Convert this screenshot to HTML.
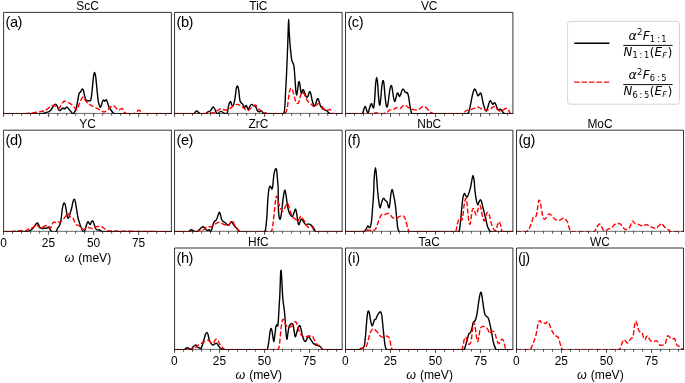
<!DOCTYPE html>
<html lang="en">
<head>
<meta charset="utf-8">
<title>Eliashberg spectral functions</title>
<style>
html,body{margin:0;padding:0;background:#fff;}
body{width:685px;height:383px;overflow:hidden;}
svg{display:block;}
</style>
</head>
<body>
<svg width="685" height="383" viewBox="0 0 685 383">
<rect width="685" height="383" fill="#fff"/>
<defs>
<clipPath id="cp_a"><rect x="3.6" y="12.4" width="167.8" height="101.5"/></clipPath>
<clipPath id="cp_b"><rect x="174.55" y="12.4" width="167.6" height="101.5"/></clipPath>
<clipPath id="cp_c"><rect x="345.5" y="12.4" width="167.4" height="101.5"/></clipPath>
<clipPath id="cp_d"><rect x="3.6" y="130.2" width="167.8" height="101.6"/></clipPath>
<clipPath id="cp_e"><rect x="174.55" y="130.2" width="167.6" height="101.6"/></clipPath>
<clipPath id="cp_f"><rect x="345.5" y="130.2" width="167.4" height="101.6"/></clipPath>
<clipPath id="cp_g"><rect x="516.5" y="130.2" width="167" height="101.6"/></clipPath>
<clipPath id="cp_h"><rect x="174.55" y="248" width="167.6" height="101.9"/></clipPath>
<clipPath id="cp_i"><rect x="345.5" y="248" width="167.4" height="101.9"/></clipPath>
<clipPath id="cp_j"><rect x="516.5" y="248" width="167" height="101.9"/></clipPath>
</defs>
<g>
<g clip-path="url(#cp_a)" fill="none" stroke-linejoin="round">
<path d="M2.6 113.85 C4.64 113.85 7.27 113.85 14 113.85 C20.73 113.85 34.57 114.1 40.32 113.85 C46.06 113.6 44.6 112.82 46.16 112.44 C47.73 112.06 48.17 112.23 49.09 111.71 C50 111.19 50.5 110.56 51.28 109.51 C52.06 108.47 52.74 106.83 53.47 105.86 C54.2 104.89 54.72 104.11 55.37 104.11 C56.03 104.11 56.55 104.89 57.13 105.86 C57.7 106.83 58.07 108.68 58.59 109.51 C59.11 110.35 59.53 110.62 60.05 110.54 C60.57 110.46 60.99 109.52 61.51 109.08 C62.04 108.63 62.45 108.05 62.98 108.05 C63.5 108.05 63.92 109.15 64.44 109.08 C64.96 109 65.38 107.93 65.9 107.61 C66.42 107.3 66.84 107.06 67.36 107.32 C67.88 107.58 68.17 108.29 68.82 109.08 C69.48 109.86 70.31 110.86 71.02 111.71 C71.72 112.56 72.2 113.72 72.77 113.85 C73.35 113.98 73.63 113.34 74.23 112.44 C74.83 111.53 75.53 110.74 76.13 108.78 C76.73 106.83 77.07 104.21 77.6 101.47 C78.12 98.73 78.54 95.13 79.06 93.43 C79.58 91.74 79.95 92.75 80.52 91.97 C81.09 91.19 81.75 89.31 82.27 89.05 C82.8 88.79 82.97 89.07 83.44 90.51 C83.91 91.94 84.38 95.34 84.91 97.09 C85.43 98.84 85.72 99.65 86.37 100.3 C87.02 100.96 87.78 100.79 88.56 100.74 C89.34 100.69 90.13 101.71 90.75 100.01 C91.38 98.31 91.55 95.42 92.04 91.24 C92.53 87.06 93.06 79.96 93.5 76.62 C93.95 73.28 94.13 72.53 94.53 72.53 C94.92 72.53 95.28 73.8 95.7 76.62 C96.11 79.44 96.4 83.88 96.87 88.32 C97.34 92.75 97.81 98.21 98.33 101.47 C98.85 104.74 99.35 105.68 99.79 106.59 C100.23 107.5 100.37 107.37 100.81 106.59 C101.26 105.81 101.8 103.38 102.27 102.2 C102.74 101.03 103 100.19 103.44 100.01 C103.89 99.83 104.26 101.23 104.76 101.18 C105.26 101.13 105.75 99.54 106.22 99.72 C106.69 99.9 106.92 100.98 107.39 102.2 C107.86 103.43 108.2 105.15 108.85 106.59 C109.51 108.03 110.26 109.12 111.05 110.25 C111.83 111.37 112.46 112.23 113.24 112.88 C114.02 113.52 113.24 113.68 115.43 113.85 C126 114.02 162.23 113.85 172.4 113.85" stroke="#000" stroke-width="1.4"/>
<path d="M3.6 113.85 C5.46 113.85 10.58 113.85 14 113.85 C17.42 113.85 19.38 114.02 22.77 113.85 C26.17 113.68 29.35 113.39 33.01 112.88 C36.66 112.36 40.63 111.71 43.24 110.98 C45.85 110.25 46.19 109.7 47.63 108.78 C49.06 107.87 50.11 106.43 51.28 105.86 C52.46 105.29 53.29 105.44 54.2 105.57 C55.12 105.7 55.61 106.07 56.4 106.59 C57.18 107.11 57.81 108.62 58.59 108.49 C59.37 108.36 60 106.98 60.78 105.86 C61.57 104.74 62.25 103.04 62.98 102.2 C63.71 101.37 64.09 101.18 64.88 101.18 C65.66 101.18 66.4 101.76 67.36 102.2 C68.33 102.65 69.24 103.01 70.29 103.67 C71.33 104.32 72.3 104.95 73.21 105.86 C74.12 106.77 74.7 108.13 75.4 108.78 C76.11 109.44 76.51 110.3 77.16 109.51 C77.81 108.73 78.33 106.23 79.06 104.4 C79.79 102.57 80.47 100.59 81.25 99.28 C82.03 97.98 82.66 96.83 83.44 97.09 C84.23 97.35 84.72 99.57 85.64 100.74 C86.55 101.92 87.68 102.88 88.56 103.67 C89.44 104.45 89.44 104.48 90.58 105.13 C91.72 105.78 93.4 106.54 94.96 107.32 C96.53 108.1 97.91 108.73 99.35 109.51 C100.79 110.3 101.96 111.32 103.01 111.71 C104.05 112.1 104.29 112.1 105.2 111.71 C106.11 111.32 107.08 110.43 108.12 109.51 C109.17 108.6 110.13 107.3 111.05 106.59 C111.96 105.89 112.46 105.44 113.24 105.57 C114.02 105.7 114.65 106.62 115.43 107.32 C116.22 108.03 116.84 109.12 117.63 109.51 C118.41 109.91 119.04 109.7 119.82 109.51 C120.6 109.33 121.36 108.36 122.01 108.49 C122.66 108.62 122.95 109.46 123.47 110.25 C124 111.03 124.15 112.23 124.94 112.88 C125.72 113.52 126.29 113.68 127.86 113.85 C129.43 114.02 132.27 114.1 133.71 113.85 C135.14 113.6 135.12 113.03 135.9 112.44 C136.68 111.85 137.49 110.93 138.09 110.54 C138.69 110.15 138.79 110.04 139.26 110.25 C139.73 110.45 140.15 111.06 140.73 111.71 C141.3 112.35 140.73 113.47 142.48 113.85 C148.14 114.23 167.06 113.85 172.4 113.85" stroke="#ff0000" stroke-width="1.4" stroke-dasharray="5 2.1"/>
</g>
<path d="M3.6 113.4 v3.5 M48.63 113.4 v3.5 M93.66 113.4 v3.5 M138.69 113.4 v3.5" stroke="#222" stroke-width="0.85" fill="none"/>
<path d="M12.61 113.4 v2.3 M21.61 113.4 v2.3 M30.62 113.4 v2.3 M39.62 113.4 v2.3 M57.64 113.4 v2.3 M66.64 113.4 v2.3 M75.65 113.4 v2.3 M84.65 113.4 v2.3 M102.67 113.4 v2.3 M111.67 113.4 v2.3 M120.68 113.4 v2.3 M129.68 113.4 v2.3 M147.7 113.4 v2.3 M156.7 113.4 v2.3 M165.71 113.4 v2.3" stroke="#222" stroke-width="0.8" fill="none"/>
<path d="M3.6 113.85 V12.4 H171.4 V113.85" fill="none" stroke="#000" stroke-width="0.8" stroke-linejoin="miter"/>
<path d="M3.2 113.4 H171.8" fill="none" stroke="#000" stroke-opacity="0.65" stroke-width="0.9"/>
<text x="87.5" y="9.7" font-family='"Liberation Sans", sans-serif' font-size="11.9" text-anchor="middle" fill="#000">ScC</text>
<text x="5.6" y="26.9" font-family='"Liberation Sans", sans-serif' font-size="14.6" letter-spacing="-0.5" fill="#000">(a)</text>
</g>
<g>
<g clip-path="url(#cp_b)" fill="none" stroke-linejoin="round">
<path d="M173.55 113.85 C175.42 113.85 180.44 113.85 184 113.85 C187.56 113.85 191.47 114.23 193.5 113.85 C195.4 113.47 194.8 112.22 195.4 111.71 C196 111.19 196.29 110.85 196.87 110.98 C197.44 111.11 197.91 111.93 198.62 112.44 C199.32 112.95 199.51 113.6 200.81 113.85 C202.12 114.1 204.62 114.23 205.93 113.85 C207.24 113.47 207.34 112.22 208.12 111.71 C208.91 111.19 209.66 111.5 210.32 110.98 C210.97 110.45 211.26 109.49 211.78 108.78 C212.3 108.08 212.72 107.03 213.24 107.03 C213.76 107.03 214.18 107.82 214.7 108.78 C215.22 109.75 215.59 111.53 216.16 112.44 C216.74 113.34 217.27 113.98 217.92 113.85 C218.57 113.72 219.22 112.14 219.82 111.71 C220.42 111.27 220.63 111.21 221.28 111.42 C221.93 111.62 222.56 112.44 223.47 112.88 C224.39 113.31 225.67 114.06 226.4 113.85 C227.13 113.64 227.18 113.13 227.57 111.71 C227.96 110.28 228.15 107.63 228.59 105.86 C229.03 104.08 229.61 102.34 230.05 101.77 C230.5 101.19 230.68 101.91 231.08 102.64 C231.47 103.37 231.78 105.55 232.25 105.86 C232.72 106.17 233.19 105.96 233.71 104.4 C234.23 102.83 234.7 99.96 235.17 97.09 C235.64 94.22 235.92 90.27 236.34 88.32 C236.76 86.36 237.09 85.86 237.51 86.12 C237.93 86.38 238.26 87.3 238.68 89.78 C239.1 92.26 239.38 97.66 239.85 100.01 C240.32 102.36 240.79 102.15 241.31 102.94 C241.83 103.72 242.17 103.61 242.77 104.4 C243.37 105.18 244.07 107.11 244.67 107.32 C245.27 107.53 245.69 105.57 246.13 105.57 C246.58 105.57 246.77 106.62 247.16 107.32 C247.55 108.03 247.86 109.65 248.33 109.51 C248.8 109.38 249.22 107.5 249.79 106.59 C250.36 105.68 250.89 104.58 251.54 104.4 C252.2 104.21 252.71 105.18 253.44 105.57 C254.18 105.96 254.98 105.76 255.64 106.59 C256.29 107.43 256.45 109.33 257.1 110.25 C257.75 111.16 258.51 111.58 259.29 111.71 C260.08 111.84 260.7 110.59 261.49 110.98 C262.27 111.36 262.9 113.34 263.68 113.85 C264.46 114.36 263.68 113.85 265.87 113.85 C269.32 113.85 279.73 114.18 283 113.85 C284.2 113.52 283.86 113.4 284.2 112 C284.54 110.6 284.65 109.57 284.9 106 C285.15 102.43 285.33 97.18 285.6 92 C285.87 86.82 286.11 83.07 286.4 77 C286.69 70.93 286.96 63.89 287.2 58 C287.44 52.11 287.57 49 287.75 44 C287.93 39 288.04 34.45 288.2 30 C288.36 25.55 288.49 19.1 288.65 19.1 C288.81 19.1 288.86 25.55 289.1 30 C289.34 34.45 289.68 39.89 290 44 C290.32 48.11 290.59 50.14 290.9 53 C291.21 55.86 291.25 57.87 291.75 60 C292.25 62.13 293.2 63 293.68 64.92 C294.15 66.85 294.15 67.9 294.41 70.77 C294.67 73.64 294.88 77.35 295.14 81.01 C295.4 84.66 295.58 88.76 295.87 91.24 C296.16 93.72 296.44 95.16 296.75 94.89 C297.06 94.63 297.31 91.87 297.63 89.78 C297.94 87.69 298.24 84.63 298.5 83.2 C298.76 81.76 298.85 81.61 299.09 81.74 C299.32 81.87 299.51 82.23 299.82 83.93 C300.13 85.63 300.5 89.54 300.84 91.24 C301.18 92.94 301.41 93.56 301.72 93.43 C302.03 93.3 302.28 91.16 302.6 90.51 C302.91 89.86 303.11 89.39 303.47 89.78 C303.84 90.17 304.17 91.53 304.64 92.7 C305.11 93.88 305.64 95.57 306.11 96.36 C306.58 97.14 306.86 97.35 307.27 97.09 C307.69 96.83 308.08 95.81 308.44 94.89 C308.81 93.98 309.01 92.49 309.32 91.97 C309.63 91.45 309.89 91.45 310.2 91.97 C310.51 92.49 310.71 93.33 311.08 94.89 C311.44 96.46 311.78 98.92 312.25 100.74 C312.72 102.57 313.24 104.21 313.71 105.13 C314.18 106.04 314.46 106.25 314.88 105.86 C315.29 105.47 315.66 104.11 316.05 102.94 C316.44 101.76 316.7 100.01 317.07 99.28 C317.44 98.55 317.73 98.45 318.09 98.84 C318.46 99.23 318.7 100.22 319.12 101.47 C319.53 102.73 319.83 104.61 320.43 105.86 C321.03 107.11 321.72 107.76 322.48 108.49 C323.24 109.22 323.89 109.51 324.67 109.95 C325.46 110.4 326.08 110.45 326.87 110.98 C327.65 111.5 328.28 112.36 329.06 112.88 C329.84 113.39 329.06 113.68 331.25 113.85 C333.77 114.02 341.03 113.85 343.15 113.85" stroke="#000" stroke-width="1.4"/>
<path d="M174.55 113.85 C176.24 113.85 178.92 113.85 184 113.85 C189.08 113.85 198.83 114.1 203.01 113.85 C207.18 113.6 205.56 112.61 207.39 112.44 C209.22 112.26 211.54 113.14 213.24 112.88 C214.94 112.62 215.72 111.66 216.89 110.98 C218.07 110.3 218.77 109.34 219.82 109.08 C220.86 108.81 221.7 109.36 222.74 109.51 C223.79 109.67 224.62 109.95 225.67 109.95 C226.71 109.95 227.55 109.98 228.59 109.51 C229.63 109.04 230.47 108.1 231.51 107.32 C232.56 106.54 233.39 105.65 234.44 105.13 C235.48 104.61 236.32 104.32 237.36 104.4 C238.41 104.48 239.24 104.99 240.29 105.57 C241.33 106.14 242.17 106.78 243.21 107.61 C244.25 108.45 245.22 109.72 246.13 110.25 C247.05 110.77 247.54 110.85 248.33 110.54 C249.11 110.22 249.61 109.33 250.52 108.49 C251.43 107.66 252.53 106.46 253.44 105.86 C254.36 105.26 254.85 104.74 255.64 105.13 C256.42 105.52 256.92 107.09 257.83 108.05 C258.74 109.02 259.58 109.75 260.75 110.54 C261.93 111.32 263.1 111.85 264.41 112.44 C265.71 113.03 266.76 113.6 268.06 113.85 C269.37 114.1 269.05 113.85 271.72 113.85 C274.39 113.85 280.52 114.02 283.01 113.85 C285.49 113.68 284.91 113.78 285.64 112.88 C286.37 111.97 286.66 110.82 287.1 108.78 C287.54 106.75 287.76 104.21 288.12 101.47 C288.49 98.73 288.75 95.65 289.15 93.43 C289.54 91.21 289.9 89.96 290.32 89.05 C290.73 88.13 291.07 88.05 291.49 88.32 C291.9 88.58 292.21 89.2 292.65 90.51 C293.1 91.81 293.47 93.8 293.97 95.63 C294.47 97.45 294.91 99.39 295.43 100.74 C295.95 102.1 296.37 102.84 296.89 103.23 C297.42 103.62 297.83 103.77 298.36 102.94 C298.88 102.1 299.3 100.25 299.82 98.55 C300.34 96.85 300.81 94.61 301.28 93.43 C301.75 92.26 302.01 91.97 302.45 91.97 C302.89 91.97 303.27 92.65 303.77 93.43 C304.26 94.22 304.63 95.18 305.23 96.36 C305.83 97.53 306.4 98.84 307.13 100.01 C307.86 101.19 308.54 102.15 309.32 102.94 C310.1 103.72 310.73 103.74 311.51 104.4 C312.3 105.05 312.92 106.33 313.71 106.59 C314.49 106.85 315.12 106.38 315.9 105.86 C316.68 105.34 317.31 103.93 318.09 103.67 C318.88 103.41 319.5 103.74 320.29 104.4 C321.07 105.05 321.57 106.28 322.48 107.32 C323.39 108.37 324.36 109.78 325.4 110.25 C326.45 110.72 327.49 110.08 328.33 109.95 C329.16 109.82 329.51 109.2 330.08 109.51 C330.66 109.83 330.94 110.93 331.54 111.71 C332.14 112.48 331.54 113.47 333.44 113.85 C335.52 114.23 341.42 113.85 343.15 113.85" stroke="#ff0000" stroke-width="1.4" stroke-dasharray="5 2.1"/>
</g>
<path d="M174.55 113.4 v3.5 M219.58 113.4 v3.5 M264.61 113.4 v3.5 M309.64 113.4 v3.5" stroke="#222" stroke-width="0.85" fill="none"/>
<path d="M183.56 113.4 v2.3 M192.56 113.4 v2.3 M201.57 113.4 v2.3 M210.57 113.4 v2.3 M228.59 113.4 v2.3 M237.59 113.4 v2.3 M246.6 113.4 v2.3 M255.6 113.4 v2.3 M273.62 113.4 v2.3 M282.62 113.4 v2.3 M291.63 113.4 v2.3 M300.63 113.4 v2.3 M318.65 113.4 v2.3 M327.65 113.4 v2.3 M336.66 113.4 v2.3" stroke="#222" stroke-width="0.8" fill="none"/>
<path d="M174.55 113.85 V12.4 H342.15 V113.85" fill="none" stroke="#000" stroke-width="0.8" stroke-linejoin="miter"/>
<path d="M174.15 113.4 H342.55" fill="none" stroke="#000" stroke-opacity="0.65" stroke-width="0.9"/>
<text x="258.35" y="9.7" font-family='"Liberation Sans", sans-serif' font-size="11.9" text-anchor="middle" fill="#000">TiC</text>
<text x="176.55" y="26.9" font-family='"Liberation Sans", sans-serif' font-size="14.6" letter-spacing="-0.5" fill="#000">(b)</text>
</g>
<g>
<g clip-path="url(#cp_c)" fill="none" stroke-linejoin="round">
<path d="M344.5 113.85 C346.2 113.85 350.87 113.85 354 113.85 C357.13 113.85 360.34 114.49 362.04 113.85 C363.5 113.21 362.98 111.54 363.5 110.25 C364.03 108.95 364.52 106.98 364.96 106.59 C365.41 106.2 365.6 107.14 365.99 108.05 C366.38 108.97 366.74 110.92 367.16 111.71 C367.58 112.49 367.94 112.96 368.33 112.44 C368.72 111.92 368.96 110.09 369.35 108.78 C369.74 107.48 370.13 106.04 370.52 105.13 C370.91 104.21 371.15 103.41 371.54 103.67 C371.94 103.93 372.32 105.94 372.71 106.59 C373.11 107.24 373.37 108.76 373.74 107.32 C374.1 105.89 374.42 102.73 374.76 98.55 C375.1 94.37 375.3 87.72 375.64 83.93 C375.98 80.14 376.3 77.35 376.66 77.35 C377.03 77.35 377.34 80.41 377.68 83.93 C378.02 87.45 378.22 93.3 378.56 97.09 C378.9 100.87 379.22 104.61 379.58 105.13 C379.95 105.65 380.22 103.28 380.61 100.01 C381 96.75 381.36 90.3 381.78 86.85 C382.2 83.41 382.56 81.24 382.95 80.71 C383.34 80.19 383.61 81.27 383.97 83.93 C384.34 86.59 384.6 91.84 384.99 95.63 C385.39 99.41 385.75 103.17 386.16 105.13 C386.58 107.09 386.92 107.5 387.33 106.59 C387.75 105.68 388.06 103.01 388.5 100.01 C388.95 97.01 389.35 92.39 389.82 89.78 C390.29 87.17 390.69 85.52 391.13 85.39 C391.58 85.26 391.89 86.96 392.3 89.05 C392.72 91.14 393.06 94.87 393.47 97.09 C393.89 99.31 394.23 101.21 394.64 101.47 C395.06 101.73 395.37 99.99 395.81 98.55 C396.26 97.11 396.71 94.35 397.13 93.43 C397.55 92.52 397.76 92.91 398.15 93.43 C398.54 93.95 398.9 96.1 399.32 96.36 C399.74 96.62 400.02 95.94 400.49 94.89 C400.96 93.85 401.46 91.55 401.95 90.51 C402.45 89.46 402.8 88.92 403.27 89.05 C403.74 89.18 404.11 90.59 404.58 91.24 C405.05 91.89 405.4 92.44 405.9 92.7 C406.4 92.96 406.87 91.92 407.36 92.7 C407.86 93.48 408.23 94.87 408.68 97.09 C409.12 99.31 409.43 102.65 409.85 105.13 C410.27 107.61 410.6 109.42 411.02 110.98 C411.44 112.53 411.02 113.34 412.19 113.85 C416.29 114.36 424.23 113.85 434 113.85 C443.77 113.85 460.68 114.23 466.89 113.85 C468.8 113.47 468.14 113.4 468.8 111.71 C469.45 110.02 469.92 107.27 470.55 104.4 C471.18 101.53 471.73 98.11 472.3 95.63 C472.88 93.15 473.3 91.68 473.77 90.51 C474.24 89.33 474.47 88.79 474.94 89.05 C475.41 89.31 475.88 90.8 476.4 91.97 C476.92 93.15 477.34 95.18 477.86 95.63 C478.38 96.07 478.8 94.93 479.32 94.46 C479.84 93.99 480.31 92.52 480.78 92.99 C481.25 93.46 481.48 95.05 481.95 97.09 C482.42 99.12 482.84 102.18 483.42 104.4 C483.99 106.62 484.6 108.34 485.17 109.51 C485.74 110.69 486.16 111.37 486.63 110.98 C487.1 110.59 487.33 108.89 487.8 107.32 C488.27 105.76 488.79 103.38 489.26 102.2 C489.73 101.03 489.99 100.61 490.43 100.74 C490.88 100.87 491.3 102.28 491.75 102.94 C492.19 103.59 492.47 104.45 492.92 104.4 C493.36 104.35 493.79 102.77 494.23 102.64 C494.68 102.51 494.93 102.83 495.4 103.67 C495.87 104.5 496.34 106.2 496.87 107.32 C497.39 108.44 497.75 109.64 498.33 109.95 C498.9 110.27 499.51 109.02 500.08 109.08 C500.66 109.13 500.94 109.57 501.54 110.25 C502.14 110.92 502.71 112.23 503.44 112.88 C504.18 113.52 503.77 113.68 505.64 113.85 C507.5 114.02 512.42 113.85 513.9 113.85" stroke="#000" stroke-width="1.4"/>
<path d="M345.5 113.85 C347.02 113.85 349.09 113.85 354 113.85 C358.91 113.85 369.09 114.08 373.01 113.85 C375.93 113.62 374.76 112.58 375.93 112.58 C377.1 112.58 378.28 113.62 379.58 113.85 C380.89 114.08 381.93 114.1 383.24 113.85 C384.55 113.6 385.72 113.13 386.89 112.44 C388.07 111.74 388.9 110.48 389.82 109.95 C390.73 109.43 391.23 109.67 392.01 109.51 C392.79 109.36 393.42 109.42 394.2 109.08 C394.99 108.74 395.61 107.67 396.4 107.61 C397.18 107.56 397.86 108.63 398.59 108.78 C399.32 108.94 399.79 108.96 400.49 108.49 C401.2 108.02 401.7 106.67 402.54 106.15 C403.37 105.63 404.23 105.41 405.17 105.57 C406.11 105.72 406.89 106.51 407.8 107.03 C408.71 107.55 409.32 108.05 410.29 108.49 C411.25 108.94 412.17 109.25 413.21 109.51 C414.25 109.78 415.09 110.03 416.13 109.95 C417.18 109.87 418.14 109.55 419.06 109.08 C419.97 108.61 420.39 107.77 421.25 107.32 C422.11 106.88 423.05 106.54 423.88 106.59 C424.72 106.64 425.15 107.01 425.93 107.61 C426.71 108.21 427.41 109.09 428.27 109.95 C429.13 110.81 429.79 111.74 430.75 112.44 C431.72 113.13 433.1 113.6 433.68 113.85 C434 114.1 433.68 113.85 434 113.85 C439.15 113.85 456.9 114.36 462.51 113.85 C465.43 113.34 464.39 111.67 465.43 110.98 C466.48 110.28 467.31 110.21 468.36 109.95 C469.4 109.69 470.11 109.85 471.28 109.51 C472.46 109.18 473.76 108.5 474.94 108.05 C476.11 107.61 476.82 106.95 477.86 107.03 C478.9 107.11 479.61 108.05 480.78 108.49 C481.96 108.94 483.26 109.2 484.44 109.51 C485.61 109.83 486.32 110.32 487.36 110.25 C488.41 110.17 489.37 109.6 490.29 109.08 C491.2 108.55 491.7 107.77 492.48 107.32 C493.26 106.88 493.89 106.33 494.67 106.59 C495.46 106.85 495.95 108 496.87 108.78 C497.78 109.57 498.75 110.72 499.79 110.98 C500.83 111.24 501.67 110.69 502.71 110.25 C503.76 109.8 504.72 108.7 505.64 108.49 C506.55 108.28 507.18 108.5 507.83 109.08 C508.48 109.65 508.77 110.86 509.29 111.71 C509.81 112.56 509.93 113.47 510.75 113.85 C511.58 114.23 513.34 113.85 513.9 113.85" stroke="#ff0000" stroke-width="1.4" stroke-dasharray="5 2.1"/>
</g>
<path d="M345.5 113.4 v3.5 M390.53 113.4 v3.5 M435.56 113.4 v3.5 M480.59 113.4 v3.5" stroke="#222" stroke-width="0.85" fill="none"/>
<path d="M354.51 113.4 v2.3 M363.51 113.4 v2.3 M372.52 113.4 v2.3 M381.52 113.4 v2.3 M399.54 113.4 v2.3 M408.54 113.4 v2.3 M417.55 113.4 v2.3 M426.55 113.4 v2.3 M444.57 113.4 v2.3 M453.57 113.4 v2.3 M462.58 113.4 v2.3 M471.58 113.4 v2.3 M489.6 113.4 v2.3 M498.6 113.4 v2.3 M507.61 113.4 v2.3" stroke="#222" stroke-width="0.8" fill="none"/>
<path d="M345.5 113.85 V12.4 H512.9 V113.85" fill="none" stroke="#000" stroke-width="0.8" stroke-linejoin="miter"/>
<path d="M345.1 113.4 H513.3" fill="none" stroke="#000" stroke-opacity="0.65" stroke-width="0.9"/>
<text x="429.2" y="9.7" font-family='"Liberation Sans", sans-serif' font-size="11.9" text-anchor="middle" fill="#000">VC</text>
<text x="347.5" y="26.9" font-family='"Liberation Sans", sans-serif' font-size="14.6" letter-spacing="-0.5" fill="#000">(c)</text>
</g>
<g>
<g clip-path="url(#cp_d)" fill="none" stroke-linejoin="round">
<path d="M2.6 231.75 C4.64 231.75 9.88 231.75 14 231.75 C18.12 231.75 22.82 231.98 25.7 231.75 C28.57 231.52 28.78 231.06 30.08 230.44 C31.39 229.81 32.09 229.16 33.01 228.25 C33.92 227.33 34.47 226.29 35.2 225.32 C35.93 224.36 36.5 222.97 37.1 222.84 C37.7 222.71 38.04 223.76 38.56 224.59 C39.08 225.43 39.32 226.81 40.02 227.51 C40.73 228.22 41.67 228.46 42.51 228.54 C43.34 228.62 43.92 228.01 44.7 227.95 C45.48 227.9 46.24 228.4 46.89 228.25 C47.55 228.09 47.83 226.95 48.36 227.08 C48.88 227.21 49.17 228.14 49.82 228.98 C50.47 229.81 50.97 231.25 52.01 231.75 C53.06 232.25 54.67 232.38 55.67 231.75 C56.66 231.12 56.86 229.39 57.57 228.25 C58.27 227.1 58.99 226.89 59.61 225.32 C60.24 223.76 60.61 222.35 61.08 219.47 C61.55 216.6 61.83 211.98 62.25 209.24 C62.66 206.5 63.02 205.22 63.42 204.12 C63.81 203.03 64.07 202.84 64.44 203.1 C64.8 203.36 65.07 203.84 65.46 205.58 C65.85 207.33 66.21 210.68 66.63 212.89 C67.05 215.11 67.38 217.23 67.8 218.01 C68.22 218.79 68.53 218.19 68.97 217.28 C69.41 216.37 69.79 214.59 70.29 212.89 C70.78 211.2 71.28 209.74 71.75 207.78 C72.22 205.82 72.47 203.44 72.92 201.93 C73.36 200.42 73.79 199.3 74.23 199.3 C74.68 199.3 74.99 200.15 75.4 201.93 C75.82 203.71 76.1 206.37 76.57 209.24 C77.04 212.11 77.46 215.4 78.04 218.01 C78.61 220.62 79.16 222.03 79.79 223.86 C80.42 225.69 80.89 226.84 81.54 228.25 C82.2 229.65 82.84 231.36 83.44 231.75 C84.04 232.14 84.38 231.59 84.91 230.44 C85.43 229.29 85.85 226.89 86.37 225.32 C86.89 223.76 87.36 222.06 87.83 221.67 C88.3 221.28 88.56 222.61 89 223.13 C89.44 223.65 89.87 224.85 90.32 224.59 C90.76 224.33 91.07 222.32 91.49 221.67 C91.9 221.01 92.24 220.67 92.65 220.94 C93.07 221.2 93.38 221.95 93.82 223.13 C94.27 224.3 94.57 226.29 95.14 227.51 C95.71 228.74 96.34 229.61 97.04 230 C97.75 230.39 98.38 229.55 99.09 229.71 C99.79 229.86 100.26 230.51 100.99 230.88 C101.72 231.24 100.99 231.59 103.18 231.75 C105.5 231.91 103.18 231.75 114 231.75 C126.36 231.75 161.97 231.75 172.4 231.75" stroke="#000" stroke-width="1.4"/>
<path d="M3.6 231.75 C4.74 231.75 7.27 231.92 10 231.75 C12.73 231.58 16.02 230.99 18.87 230.79 C21.73 230.59 24.23 230.96 25.97 230.61 C27.71 230.26 27.68 229.31 28.63 228.84 C29.58 228.36 30.42 228.27 31.3 227.95 C32.17 227.63 32.8 227.54 33.51 227.06 C34.23 226.59 34.73 225.76 35.29 225.29 C35.84 224.81 36.06 224.16 36.62 224.4 C37.17 224.64 37.68 225.91 38.39 226.62 C39.11 227.33 39.82 228.31 40.61 228.39 C41.4 228.47 42.04 227.51 42.83 227.06 C43.62 226.62 44.26 226.18 45.05 225.91 C45.84 225.64 46.55 225.43 47.27 225.55 C47.98 225.68 48.49 226.11 49.04 226.62 C49.6 227.13 49.94 228.55 50.37 228.39 C50.81 228.24 51.02 226.76 51.49 225.75 C51.95 224.75 52.44 223.45 52.98 222.78 C53.51 222.1 53.84 221.98 54.46 221.98 C55.08 221.98 55.74 222.78 56.45 222.78 C57.15 222.78 57.81 222.07 58.43 221.98 C59.05 221.9 59.39 222.41 59.92 222.28 C60.45 222.16 60.87 221.73 61.41 221.29 C61.94 220.85 62.27 220.51 62.89 219.8 C63.51 219.09 64.26 218.12 64.88 217.32 C65.5 216.53 65.87 216.05 66.36 215.34 C66.86 214.63 67.21 213.53 67.65 213.36 C68.1 213.18 68.45 213.82 68.84 214.35 C69.23 214.88 69.39 215.8 69.84 216.33 C70.28 216.86 70.79 217.02 71.32 217.32 C71.85 217.62 72.37 217.57 72.81 218.02 C73.25 218.46 73.41 218.95 73.8 219.8 C74.19 220.65 74.55 221.89 74.99 222.78 C75.44 223.66 75.79 224.32 76.28 224.76 C76.78 225.2 77.24 225.08 77.77 225.26 C78.3 225.43 78.73 225.31 79.26 225.75 C79.79 226.2 80.21 227.12 80.74 227.74 C81.28 228.36 81.61 228.96 82.23 229.22 C82.85 229.49 83.51 229.45 84.22 229.22 C84.92 228.99 85.49 228.24 86.2 227.93 C86.91 227.63 87.47 227.54 88.18 227.54 C88.89 227.54 89.46 227.76 90.17 227.93 C90.88 228.11 91.44 228.6 92.15 228.53 C92.86 228.46 93.43 227.86 94.13 227.54 C94.84 227.22 95.41 226.92 96.12 226.74 C96.83 226.57 97.39 226.64 98.1 226.55 C98.81 226.46 99.38 226.18 100.08 226.25 C100.79 226.32 101.36 226.59 102.07 226.94 C102.78 227.3 103.34 227.7 104.05 228.23 C104.76 228.76 105.42 229.44 106.03 229.92 C106.65 230.4 106.03 230.58 107.52 230.91 C119.37 231.24 160.81 231.6 172.4 231.75" stroke="#ff0000" stroke-width="1.4" stroke-dasharray="5 2.1"/>
</g>
<path d="M3.6 231.3 v3.5 M48.63 231.3 v3.5 M93.66 231.3 v3.5 M138.69 231.3 v3.5" stroke="#222" stroke-width="0.85" fill="none"/>
<path d="M12.61 231.3 v2.3 M21.61 231.3 v2.3 M30.62 231.3 v2.3 M39.62 231.3 v2.3 M57.64 231.3 v2.3 M66.64 231.3 v2.3 M75.65 231.3 v2.3 M84.65 231.3 v2.3 M102.67 231.3 v2.3 M111.67 231.3 v2.3 M120.68 231.3 v2.3 M129.68 231.3 v2.3 M147.7 231.3 v2.3 M156.7 231.3 v2.3 M165.71 231.3 v2.3" stroke="#222" stroke-width="0.8" fill="none"/>
<path d="M3.6 231.75 V130.2 H171.4 V231.75" fill="none" stroke="#000" stroke-width="0.8" stroke-linejoin="miter"/>
<path d="M3.2 231.3 H171.8" fill="none" stroke="#000" stroke-opacity="0.65" stroke-width="0.9"/>
<text x="87.5" y="127.5" font-family='"Liberation Sans", sans-serif' font-size="11.9" text-anchor="middle" fill="#000">YC</text>
<text x="5.6" y="144.7" font-family='"Liberation Sans", sans-serif' font-size="14.6" letter-spacing="-0.5" fill="#000">(d)</text>
<text x="3.45" y="246.9" font-family='"Liberation Sans", sans-serif' font-size="11.9" text-anchor="middle" fill="#000">0</text>
<text x="48.48" y="246.9" font-family='"Liberation Sans", sans-serif' font-size="11.9" text-anchor="middle" fill="#000">25</text>
<text x="93.51" y="246.9" font-family='"Liberation Sans", sans-serif' font-size="11.9" text-anchor="middle" fill="#000">50</text>
<text x="138.54" y="246.9" font-family='"Liberation Sans", sans-serif' font-size="11.9" text-anchor="middle" fill="#000">75</text>
<text x="87.9" y="261.9" font-family='"Liberation Sans", sans-serif' font-size="12.1" text-anchor="middle" fill="#000"><tspan font-style="italic" font-size="12.5">ω</tspan><tspan dx="0.6"> (meV)</tspan></text>
</g>
<g>
<g clip-path="url(#cp_e)" fill="none" stroke-linejoin="round">
<path d="M173.55 231.75 C175.42 231.75 181.35 231.75 184 231.75 C186.65 231.75 187.08 232.11 188.39 231.75 C189.69 231.39 190.4 229.86 191.31 229.71 C192.22 229.55 192.46 230.51 193.5 230.88 C194.55 231.24 196.11 231.96 197.16 231.75 C198.2 231.54 198.57 230.46 199.35 229.71 C200.13 228.95 200.84 228.04 201.54 227.51 C202.25 226.99 202.65 226.6 203.3 226.78 C203.95 226.97 204.52 227.89 205.2 228.54 C205.88 229.19 206.39 230.23 207.1 230.44 C207.8 230.65 208.52 229.47 209.15 229.71 C209.77 229.94 210.09 232.01 210.61 231.75 C211.13 231.49 211.55 229.79 212.07 228.25 C212.59 226.71 213.01 224.43 213.53 223.13 C214.05 221.82 214.47 221.54 214.99 220.94 C215.52 220.34 215.93 220.68 216.46 219.77 C216.98 218.85 217.4 217.18 217.92 215.82 C218.44 214.46 218.91 212.29 219.38 212.16 C219.85 212.03 220.13 213.73 220.55 215.09 C220.97 216.45 221.2 218.59 221.72 219.77 C222.24 220.94 222.85 221.14 223.47 221.67 C224.1 222.19 224.58 222.17 225.23 222.69 C225.88 223.21 226.53 224.12 227.13 224.59 C227.73 225.06 228.07 225.5 228.59 225.32 C229.11 225.14 229.53 224.22 230.05 223.57 C230.57 222.91 230.99 221.61 231.51 221.67 C232.04 221.72 232.45 223.08 232.98 223.86 C233.5 224.64 233.84 225.32 234.44 226.05 C235.04 226.78 235.63 227.17 236.34 227.95 C237.04 228.74 237.55 229.76 238.39 230.44 C239.22 231.12 238.39 231.52 241.02 231.75 C245.63 231.98 259.83 232.38 264.23 231.75 C265.7 231.12 265.23 230.96 265.7 228.25 C266.17 225.53 266.47 221.77 266.87 216.55 C267.26 211.33 267.53 203.88 267.89 199.01 C268.25 194.14 268.53 191.49 268.87 189.28 C269.2 187.07 269.44 187.13 269.75 186.62 C270.07 186.11 270.37 186.2 270.64 186.44 C270.91 186.68 271.02 187.47 271.26 187.95 C271.5 188.43 271.72 189.34 271.97 189.1 C272.23 188.87 272.44 188.17 272.68 186.62 C272.92 185.07 273.06 182.63 273.3 180.41 C273.54 178.19 273.74 175.94 274.01 174.2 C274.28 172.45 274.51 171.63 274.81 170.65 C275.11 169.67 275.41 168.93 275.7 168.7 C275.98 168.46 276.17 168.49 276.41 169.32 C276.65 170.14 276.82 171.33 277.03 173.31 C277.24 175.29 277.36 177.71 277.56 180.41 C277.77 183.1 278.06 184.29 278.18 188.39 C278.26 192.5 278.18 198.63 278.26 203.39 C278.38 208.16 278.57 212.27 278.85 215.09 C279.14 217.91 279.49 219.05 279.88 219.18 C280.27 219.31 280.66 217.86 281.05 215.82 C281.44 213.78 281.68 211.04 282.07 207.78 C282.46 204.51 282.85 200.42 283.24 197.54 C283.63 194.67 283.92 192.95 284.26 191.7 C284.6 190.44 284.8 189.74 285.14 190.53 C285.48 191.31 285.77 193.52 286.16 196.08 C286.56 198.64 286.86 202.11 287.33 204.85 C287.8 207.6 288.22 209.61 288.8 211.43 C289.37 213.26 289.92 214.17 290.55 215.09 C291.18 216 291.78 216.68 292.3 216.55 C292.83 216.42 293.06 215.4 293.47 214.36 C293.89 213.31 294.25 211.62 294.64 210.7 C295.03 209.79 295.3 208.72 295.67 209.24 C296.03 209.76 296.35 211.67 296.69 213.63 C297.03 215.58 297.23 218.25 297.57 220.2 C297.91 222.16 298.23 224.07 298.59 224.59 C298.96 225.11 299.17 224.04 299.61 223.13 C300.06 222.21 300.55 220 301.08 219.47 C301.6 218.95 301.94 219.55 302.54 220.2 C303.14 220.86 303.76 222.27 304.44 223.13 C305.12 223.99 305.69 224.9 306.34 225.03 C306.99 225.16 307.39 223.94 308.09 223.86 C308.8 223.78 309.5 224.12 310.29 224.59 C311.07 225.06 311.77 225.71 312.48 226.49 C313.18 227.27 313.58 228.04 314.23 228.98 C314.89 229.92 314.23 231.25 316.13 231.75 C321.3 232.25 338.33 231.75 343.15 231.75" stroke="#000" stroke-width="1.4"/>
<path d="M174.55 231.75 C176.24 231.75 180.22 231.75 184 231.75 C187.78 231.75 193.09 231.98 195.7 231.75 C198.31 231.52 197.45 230.67 198.62 230.44 C199.79 230.2 201.23 230.7 202.27 230.44 C203.32 230.18 203.68 229.58 204.47 228.98 C205.25 228.38 205.75 227.47 206.66 227.08 C207.57 226.68 208.54 226.97 209.58 226.78 C210.63 226.6 211.46 226.57 212.51 226.05 C213.55 225.53 214.39 224.51 215.43 223.86 C216.48 223.21 217.44 222.61 218.36 222.4 C219.27 222.19 219.77 222.43 220.55 222.69 C221.33 222.95 221.83 223.44 222.74 223.86 C223.66 224.28 224.75 224.72 225.67 225.03 C226.58 225.34 227.15 225.82 227.86 225.61 C228.56 225.41 228.96 224.7 229.61 223.86 C230.27 223.02 230.91 221.33 231.51 220.94 C232.12 220.54 232.45 221.01 232.98 221.67 C233.5 222.32 233.84 223.55 234.44 224.59 C235.04 225.63 235.56 226.47 236.34 227.51 C237.12 228.56 237.86 229.68 238.82 230.44 C239.79 231.19 238.82 231.52 241.75 231.75 C247.33 231.98 264.71 231.98 270.08 231.75 C271.84 231.52 271.31 231.85 271.84 230.44 C272.36 229.03 272.59 226.86 273.01 223.86 C273.42 220.86 273.76 217.54 274.18 213.63 C274.59 209.71 274.95 205.01 275.35 201.93 C275.74 198.85 276 197.03 276.37 196.37 C276.73 195.72 276.95 196.89 277.39 198.27 C277.84 199.66 278.28 202.3 278.85 204.12 C279.43 205.95 279.96 207.2 280.61 208.51 C281.26 209.81 281.91 211.3 282.51 211.43 C283.11 211.56 283.37 210.28 283.97 209.24 C284.57 208.2 285.22 206.63 285.87 205.58 C286.52 204.54 287.05 203.13 287.63 203.39 C288.2 203.65 288.51 205.35 289.09 207.05 C289.66 208.74 290.19 211.07 290.84 212.89 C291.49 214.72 292.01 216.24 292.74 217.28 C293.47 218.32 294.15 218.09 294.94 218.74 C295.72 219.4 296.48 220.67 297.13 220.94 C297.78 221.2 298.07 220.86 298.59 220.2 C299.11 219.55 299.53 217.93 300.05 217.28 C300.57 216.63 300.99 216.21 301.51 216.55 C302.04 216.89 302.32 218.14 302.98 219.18 C303.63 220.23 304.39 221.09 305.17 222.4 C305.95 223.7 306.58 225.58 307.36 226.49 C308.15 227.4 308.77 227.46 309.56 227.51 C310.34 227.57 311.1 226.52 311.75 226.78 C312.4 227.04 312.56 228.09 313.21 228.98 C313.86 229.86 313.21 231.25 315.4 231.75 C320.75 232.25 338.2 231.75 343.15 231.75" stroke="#ff0000" stroke-width="1.4" stroke-dasharray="5 2.1"/>
</g>
<path d="M174.55 231.3 v3.5 M219.58 231.3 v3.5 M264.61 231.3 v3.5 M309.64 231.3 v3.5" stroke="#222" stroke-width="0.85" fill="none"/>
<path d="M183.56 231.3 v2.3 M192.56 231.3 v2.3 M201.57 231.3 v2.3 M210.57 231.3 v2.3 M228.59 231.3 v2.3 M237.59 231.3 v2.3 M246.6 231.3 v2.3 M255.6 231.3 v2.3 M273.62 231.3 v2.3 M282.62 231.3 v2.3 M291.63 231.3 v2.3 M300.63 231.3 v2.3 M318.65 231.3 v2.3 M327.65 231.3 v2.3 M336.66 231.3 v2.3" stroke="#222" stroke-width="0.8" fill="none"/>
<path d="M174.55 231.75 V130.2 H342.15 V231.75" fill="none" stroke="#000" stroke-width="0.8" stroke-linejoin="miter"/>
<path d="M174.15 231.3 H342.55" fill="none" stroke="#000" stroke-opacity="0.65" stroke-width="0.9"/>
<text x="258.35" y="127.5" font-family='"Liberation Sans", sans-serif' font-size="11.9" text-anchor="middle" fill="#000">ZrC</text>
<text x="176.55" y="144.7" font-family='"Liberation Sans", sans-serif' font-size="14.6" letter-spacing="-0.5" fill="#000">(e)</text>
</g>
<g>
<g clip-path="url(#cp_f)" fill="none" stroke-linejoin="round">
<path d="M344.5 231.75 C346.2 231.75 350.74 231.75 354 231.75 C357.26 231.75 360.74 231.98 362.77 231.75 C364.81 231.52 364.67 231.19 365.4 230.44 C366.13 229.68 366.4 228.3 366.87 227.51 C367.34 226.73 367.62 226.05 368.04 226.05 C368.45 226.05 368.79 227.38 369.2 227.51 C369.62 227.65 369.96 227.96 370.37 226.78 C370.79 225.61 371.13 224.59 371.54 220.94 C371.96 217.28 372.32 211.54 372.71 206.32 C373.11 201.09 373.48 196.76 373.74 191.7 C374 186.63 373.86 182.22 374.18 177.93 C374.49 173.64 375.05 167.7 375.49 167.7 C375.94 167.7 376.27 173.64 376.66 177.93 C377.05 182.22 377.29 187.41 377.68 191.7 C378.08 195.98 378.44 199.06 378.85 201.93 C379.27 204.8 379.61 207.39 380.02 207.78 C380.44 208.17 380.75 205.56 381.19 204.12 C381.64 202.69 382.04 200.78 382.51 199.74 C382.98 198.69 383.33 198.14 383.82 198.27 C384.32 198.41 384.71 199.82 385.29 200.47 C385.86 201.12 386.41 200.62 387.04 201.93 C387.67 203.24 388.3 207.39 388.8 207.78 C389.29 208.17 389.45 206.47 389.82 204.12 C390.18 201.77 390.45 197.23 390.84 194.62 C391.23 192.01 391.59 189.76 392.01 189.5 C392.43 189.24 392.71 191.2 393.18 193.16 C393.65 195.12 394.2 197.86 394.64 200.47 C395.09 203.08 395.3 204.64 395.67 207.78 C396.03 210.91 396.35 214.62 396.69 218.01 C397.03 221.41 397.23 224.56 397.57 226.78 C397.91 229 398.23 229.55 398.59 230.44 C398.96 231.33 398.59 231.52 399.61 231.75 C405.94 231.98 423.55 231.75 434 231.75 C444.45 231.75 453.55 232.25 458.12 231.75 C459.58 231.25 459.11 231.17 459.58 228.98 C460.05 226.78 460.36 223.26 460.75 219.47 C461.15 215.69 461.39 211.69 461.78 207.78 C462.17 203.86 462.48 200.1 462.95 197.54 C463.42 194.99 463.89 193.71 464.41 193.45 C464.93 193.19 465.35 195.48 465.87 196.08 C466.39 196.68 466.76 197.47 467.33 196.81 C467.91 196.16 468.51 194.12 469.09 192.43 C469.66 190.73 470.08 189.38 470.55 187.31 C471.02 185.24 471.28 182.97 471.72 180.85 C472.16 178.73 472.59 175.44 473.04 175.44 C473.48 175.44 473.92 178.73 474.2 180.85 C474.49 182.97 474.38 184.59 474.64 187.31 C474.9 190.03 475.3 193.47 475.67 196.08 C476.03 198.69 476.3 200.36 476.69 201.93 C477.08 203.5 477.44 204.85 477.86 204.85 C478.28 204.85 478.56 202.84 479.03 201.93 C479.5 201.02 480.02 199.74 480.49 199.74 C480.96 199.74 481.22 200.49 481.66 201.93 C482.1 203.37 482.48 205.69 482.98 207.78 C483.47 209.87 483.92 211.54 484.44 213.63 C484.96 215.71 485.38 217.25 485.9 219.47 C486.42 221.69 486.76 224.17 487.36 226.05 C487.96 227.93 488.48 228.98 489.26 230 C490.05 231.02 489.26 231.44 491.75 231.75 C496.15 232.06 509.94 231.75 513.9 231.75" stroke="#000" stroke-width="1.4"/>
<path d="M345.5 231.75 C347.02 231.75 350.65 231.75 354 231.75 C357.35 231.75 361.88 232.06 364.23 231.75 C366.58 231.44 366.11 230.23 367.16 230 C368.2 229.77 368.91 230.36 370.08 230.44 C371.26 230.52 372.74 230.7 373.74 230.44 C374.73 230.18 375.04 229.89 375.64 228.98 C376.24 228.06 376.58 226.76 377.1 225.32 C377.62 223.89 377.99 222.5 378.56 220.94 C379.14 219.37 379.69 217.72 380.32 216.55 C380.94 215.37 381.42 214.67 382.07 214.36 C382.72 214.04 383.24 214.87 383.97 214.8 C384.7 214.72 385.38 214.18 386.16 213.92 C386.95 213.66 387.57 213.12 388.36 213.33 C389.14 213.54 389.77 214.3 390.55 215.09 C391.33 215.87 391.96 217.14 392.74 217.72 C393.53 218.29 394.15 218.25 394.94 218.3 C395.72 218.36 396.35 218.32 397.13 218.01 C397.91 217.7 398.54 216.94 399.32 216.55 C400.1 216.16 400.73 215.87 401.51 215.82 C402.3 215.77 403.05 215.74 403.71 216.26 C404.36 216.78 404.65 217.39 405.17 218.74 C405.69 220.1 406.11 222.03 406.63 223.86 C407.15 225.69 407.57 227.57 408.09 228.98 C408.62 230.39 408.09 231.25 409.56 231.75 C414.18 232.25 425.98 231.75 434 231.75 C442.02 231.75 450.5 232.11 454.47 231.75 C456.22 231.39 455.7 231.12 456.22 229.71 C456.74 228.3 456.92 225.69 457.39 223.86 C457.86 222.03 458.33 220.47 458.85 219.47 C459.38 218.48 459.79 218.17 460.32 218.3 C460.84 218.43 461.31 220.78 461.78 220.2 C462.25 219.63 462.56 217.57 462.95 215.09 C463.34 212.61 463.61 208.93 463.97 206.32 C464.34 203.71 464.6 201.9 464.99 200.47 C465.39 199.03 465.8 197.75 466.16 198.27 C466.53 198.8 466.73 200.65 467.04 203.39 C467.35 206.13 467.55 210.23 467.92 213.63 C468.28 217.02 468.67 220.57 469.09 222.4 C469.51 224.23 469.87 224.9 470.26 223.86 C470.65 222.82 470.92 219.03 471.28 216.55 C471.65 214.07 471.91 211.41 472.3 209.97 C472.7 208.53 473.06 208.25 473.47 208.51 C473.89 208.77 474.17 210.26 474.64 211.43 C475.11 212.61 475.64 214.96 476.11 215.09 C476.58 215.22 476.83 213.47 477.27 212.16 C477.72 210.86 478.09 208.95 478.59 207.78 C479.09 206.6 479.61 205.32 480.05 205.58 C480.5 205.85 480.63 207.28 481.08 209.24 C481.52 211.2 482.02 214.46 482.54 216.55 C483.06 218.64 483.53 220.67 484 220.94 C484.47 221.2 484.7 219.32 485.17 218.01 C485.64 216.71 486.11 214.62 486.63 213.63 C487.15 212.63 487.57 212.06 488.09 212.46 C488.62 212.85 489.03 214.04 489.56 215.82 C490.08 217.59 490.44 220.31 491.02 222.4 C491.59 224.49 492.12 226.08 492.77 227.51 C493.42 228.95 494.07 230.05 494.67 230.44 C495.27 230.83 495.61 230.75 496.13 229.71 C496.66 228.66 497.07 226.03 497.6 224.59 C498.12 223.15 498.54 221.67 499.06 221.67 C499.58 221.67 500.08 223.15 500.52 224.59 C500.96 226.03 501.15 228.43 501.54 229.71 C501.94 230.99 501.54 231.39 502.71 231.75 C504.92 232.11 511.9 231.75 513.9 231.75" stroke="#ff0000" stroke-width="1.4" stroke-dasharray="5 2.1"/>
</g>
<path d="M345.5 231.3 v3.5 M390.53 231.3 v3.5 M435.56 231.3 v3.5 M480.59 231.3 v3.5" stroke="#222" stroke-width="0.85" fill="none"/>
<path d="M354.51 231.3 v2.3 M363.51 231.3 v2.3 M372.52 231.3 v2.3 M381.52 231.3 v2.3 M399.54 231.3 v2.3 M408.54 231.3 v2.3 M417.55 231.3 v2.3 M426.55 231.3 v2.3 M444.57 231.3 v2.3 M453.57 231.3 v2.3 M462.58 231.3 v2.3 M471.58 231.3 v2.3 M489.6 231.3 v2.3 M498.6 231.3 v2.3 M507.61 231.3 v2.3" stroke="#222" stroke-width="0.8" fill="none"/>
<path d="M345.5 231.75 V130.2 H512.9 V231.75" fill="none" stroke="#000" stroke-width="0.8" stroke-linejoin="miter"/>
<path d="M345.1 231.3 H513.3" fill="none" stroke="#000" stroke-opacity="0.65" stroke-width="0.9"/>
<text x="429.2" y="127.5" font-family='"Liberation Sans", sans-serif' font-size="11.9" text-anchor="middle" fill="#000">NbC</text>
<text x="347.5" y="144.7" font-family='"Liberation Sans", sans-serif' font-size="14.6" letter-spacing="-0.3" fill="#000">(f)</text>
</g>
<g>
<g clip-path="url(#cp_g)" fill="none" stroke-linejoin="round">
<path d="M516.5 231.75 C518.14 231.75 523.66 231.98 525.7 231.75 C527.73 231.52 527.11 231.33 527.89 230.44 C528.67 229.55 529.38 228.35 530.08 226.78 C530.79 225.22 531.26 223.36 531.84 221.67 C532.41 219.97 532.78 218.19 533.3 217.28 C533.82 216.37 534.24 216.81 534.76 216.55 C535.28 216.29 535.75 217.12 536.22 215.82 C536.69 214.51 537 211.72 537.39 209.24 C537.78 206.76 538.08 203.55 538.42 201.93 C538.75 200.31 538.95 200.04 539.29 200.18 C539.63 200.31 539.92 201.04 540.32 202.66 C540.71 204.28 541.07 206.89 541.49 209.24 C541.9 211.59 542.21 214.12 542.65 215.82 C543.1 217.52 543.47 218.22 543.97 218.74 C544.47 219.26 544.83 219.26 545.43 218.74 C546.03 218.22 546.68 216.68 547.33 215.82 C547.99 214.96 548.46 214.1 549.09 213.92 C549.71 213.74 550.19 214.19 550.84 214.8 C551.49 215.4 552.01 216.5 552.74 217.28 C553.47 218.06 554.15 218.66 554.94 219.18 C555.72 219.7 556.35 220.02 557.13 220.2 C557.91 220.39 558.54 220.39 559.32 220.2 C560.1 220.02 560.73 219.57 561.51 219.18 C562.3 218.79 563 218.01 563.71 218.01 C564.41 218.01 564.81 218.53 565.46 219.18 C566.11 219.83 566.76 220.31 567.36 221.67 C567.96 223.02 568.3 225.22 568.82 226.78 C569.35 228.35 569.63 229.55 570.29 230.44 C570.94 231.33 570.29 231.52 572.48 231.75 C575.11 231.98 581.2 231.75 585 231.75 C588.8 231.75 591.89 232.11 593.77 231.75 C595.53 231.39 594.87 230.65 595.53 229.71 C596.18 228.77 596.77 227.48 597.43 226.49 C598.08 225.5 598.58 224.41 599.18 224.15 C599.78 223.89 600.24 224.3 600.79 225.03 C601.34 225.76 601.68 227.2 602.25 228.25 C602.83 229.29 603.3 230.49 604.01 230.88 C604.71 231.27 605.42 230.78 606.2 230.44 C606.98 230.1 607.48 229.42 608.39 228.98 C609.31 228.53 610.4 228.55 611.32 227.95 C612.23 227.35 612.73 226.35 613.51 225.61 C614.29 224.88 614.92 224.23 615.7 223.86 C616.48 223.49 617.11 223.57 617.89 223.57 C618.68 223.57 619.38 223.49 620.09 223.86 C620.79 224.23 621.19 224.83 621.84 225.61 C622.49 226.4 623.06 227.51 623.74 228.25 C624.42 228.98 624.94 229.66 625.64 229.71 C626.35 229.76 626.99 228.93 627.69 228.54 C628.39 228.15 628.99 228.35 629.59 227.51 C630.19 226.68 630.61 224.98 631.05 223.86 C631.5 222.74 631.63 221.62 632.08 221.23 C632.52 220.84 633.02 221.25 633.54 221.67 C634.06 222.08 634.27 223.12 635 223.57 C635.73 224.01 636.64 223.84 637.63 224.15 C638.62 224.47 639.64 224.98 640.56 225.32 C641.47 225.66 641.97 226.1 642.75 226.05 C643.53 226 644.16 225.29 644.94 225.03 C645.72 224.77 646.35 224.33 647.13 224.59 C647.92 224.85 648.54 226.05 649.33 226.49 C650.11 226.94 650.74 226.81 651.52 227.08 C652.3 227.34 652.93 227.74 653.71 227.95 C654.5 228.16 655.12 228.51 655.91 228.25 C656.69 227.98 657.32 227.14 658.1 226.49 C658.88 225.84 659.64 225.11 660.29 224.59 C660.95 224.07 661.23 223.44 661.75 223.57 C662.28 223.7 662.62 224.62 663.22 225.32 C663.82 226.03 664.33 226.86 665.12 227.51 C665.9 228.17 666.77 228.38 667.6 228.98 C668.44 229.58 668.88 230.38 669.8 230.88 C670.71 231.37 670.09 231.59 672.72 231.75 C675.35 231.91 682.4 231.75 684.5 231.75" stroke="#ff0000" stroke-width="1.4" stroke-dasharray="5 2.1"/>
</g>
<path d="M516.5 231.3 v3.5 M561.53 231.3 v3.5 M606.56 231.3 v3.5 M651.59 231.3 v3.5" stroke="#222" stroke-width="0.85" fill="none"/>
<path d="M525.51 231.3 v2.3 M534.51 231.3 v2.3 M543.52 231.3 v2.3 M552.52 231.3 v2.3 M570.54 231.3 v2.3 M579.54 231.3 v2.3 M588.55 231.3 v2.3 M597.55 231.3 v2.3 M615.57 231.3 v2.3 M624.57 231.3 v2.3 M633.58 231.3 v2.3 M642.58 231.3 v2.3 M660.6 231.3 v2.3 M669.6 231.3 v2.3 M678.61 231.3 v2.3" stroke="#222" stroke-width="0.8" fill="none"/>
<path d="M516.5 231.75 V130.2 H683.5 V231.75" fill="none" stroke="#000" stroke-width="0.8" stroke-linejoin="miter"/>
<path d="M516.1 231.3 H683.9" fill="none" stroke="#000" stroke-opacity="0.65" stroke-width="0.9"/>
<text x="600" y="127.5" font-family='"Liberation Sans", sans-serif' font-size="11.9" text-anchor="middle" fill="#000">MoC</text>
<text x="518.5" y="144.7" font-family='"Liberation Sans", sans-serif' font-size="14.6" letter-spacing="-0.5" fill="#000">(g)</text>
</g>
<g>
<g clip-path="url(#cp_h)" fill="none" stroke-linejoin="round">
<path d="M173.55 349.85 C175.33 349.85 181.33 350.1 183.5 349.85 C185.67 349.6 184.99 348.82 185.7 348.44 C186.4 348.06 186.8 347.63 187.45 347.71 C188.1 347.79 188.62 348.49 189.35 348.88 C190.08 349.26 190.89 350.19 191.54 349.85 C192.2 349.51 192.43 347.75 193.01 346.98 C193.58 346.2 194.19 345.85 194.76 345.51 C195.33 345.18 195.7 344.81 196.22 345.08 C196.74 345.34 197.08 346.45 197.68 346.98 C198.28 347.5 198.98 347.74 199.58 348 C200.19 348.26 200.52 349.01 201.05 348.44 C201.57 347.86 201.99 346.35 202.51 344.78 C203.03 343.22 203.45 341.49 203.97 339.67 C204.49 337.84 204.91 335.86 205.43 334.55 C205.95 333.24 206.42 332.36 206.89 332.36 C207.36 332.36 207.67 333.24 208.06 334.55 C208.46 335.86 208.64 338.23 209.09 339.67 C209.53 341.1 209.98 341.68 210.55 342.59 C211.12 343.5 211.73 344.39 212.3 344.78 C212.88 345.18 213.24 344.99 213.77 344.78 C214.29 344.57 214.76 343.93 215.23 343.61 C215.7 343.3 215.93 342.82 216.4 343.03 C216.87 343.24 217.29 344 217.86 344.78 C218.43 345.57 218.96 346.68 219.61 347.42 C220.27 348.15 220.65 348.44 221.51 348.88 C222.38 349.31 221.51 349.68 224.44 349.85 C230.24 350.02 246.5 349.85 254 349.85 C261.5 349.85 263.95 350.36 266.43 349.85 C267.89 349.34 267.42 348.8 267.89 346.98 C268.36 345.16 268.67 342.41 269.06 339.67 C269.45 336.93 269.69 333.64 270.08 331.63 C270.47 329.62 270.86 328.28 271.25 328.41 C271.64 328.54 271.91 330.35 272.27 332.36 C272.64 334.37 272.98 338.1 273.3 339.67 C273.61 341.23 273.74 342.04 274.03 341.13 C274.32 340.21 274.57 337.16 274.91 334.55 C275.25 331.94 275.56 328.28 275.93 326.51 C276.3 324.73 276.61 324.74 276.95 324.61 C277.29 324.48 277.54 327.14 277.83 325.78 C278.12 324.42 278.3 320.92 278.56 317.01 C278.82 313.09 279.07 307.6 279.29 303.85 C279.51 300.1 279.61 300.26 279.8 296 C279.99 291.74 280.19 284.36 280.35 280 C280.51 275.64 280.58 273.24 280.7 271.6 C280.82 269.96 280.89 270.8 281 270.8 C281.11 270.8 281.16 269.96 281.3 271.6 C281.44 273.24 281.59 276.18 281.8 280 C282.01 283.82 282.19 289 282.45 293 C282.71 297 282.92 299.4 283.24 302.39 C283.56 305.37 283.92 306.56 284.26 309.7 C284.6 312.83 284.85 316.01 285.14 319.93 C285.43 323.85 285.56 328.18 285.87 331.63 C286.18 335.07 286.53 338.97 286.89 339.23 C287.26 339.49 287.53 335.36 287.92 333.09 C288.31 330.82 288.62 328.08 289.09 326.51 C289.56 324.94 290.03 324.84 290.55 324.32 C291.07 323.79 291.54 323.45 292.01 323.58 C292.48 323.72 292.79 323.61 293.18 325.05 C293.57 326.48 293.84 329.54 294.2 331.63 C294.57 333.71 294.84 336.35 295.23 336.74 C295.62 337.13 295.98 335.12 296.4 333.82 C296.82 332.51 297.12 330.74 297.57 329.43 C298.01 328.13 298.44 327.16 298.88 326.51 C299.33 325.86 299.66 325.26 300.05 325.78 C300.44 326.3 300.68 327.74 301.08 329.43 C301.47 331.13 301.78 333.45 302.25 335.28 C302.72 337.11 303.13 338.54 303.71 339.67 C304.28 340.79 304.89 341.7 305.46 341.57 C306.04 341.44 306.4 339.88 306.92 338.94 C307.45 338 307.86 336.43 308.39 336.3 C308.91 336.17 309.33 337.47 309.85 338.2 C310.37 338.94 310.71 339.48 311.31 340.4 C311.91 341.31 312.48 342.54 313.21 343.32 C313.94 344.1 314.62 344.39 315.4 344.78 C316.19 345.18 316.81 345.25 317.6 345.51 C318.38 345.78 319.08 345.8 319.79 346.25 C320.49 346.69 320.89 347.36 321.54 348 C322.2 348.64 321.54 349.52 323.44 349.85 C327.3 350.18 339.63 349.85 343.15 349.85" stroke="#000" stroke-width="1.4"/>
<path d="M174.55 349.85 C177.06 349.85 185.59 350.1 188.62 349.85 C191.54 349.6 190.5 348.69 191.54 348.44 C192.59 348.19 193.55 348.78 194.47 348.44 C195.38 348.1 195.88 347.19 196.66 346.54 C197.44 345.89 198.07 345.31 198.85 344.78 C199.64 344.26 200.26 344.08 201.05 343.61 C201.83 343.14 202.46 342.6 203.24 342.15 C204.02 341.71 204.65 341.44 205.43 341.13 C206.22 340.82 206.84 340.32 207.63 340.4 C208.41 340.48 209.09 341.1 209.82 341.57 C210.55 342.04 211.07 342.85 211.72 343.03 C212.37 343.21 212.9 343.06 213.47 342.59 C214.05 342.12 214.41 341.05 214.94 340.4 C215.46 339.74 215.88 338.94 216.4 338.94 C216.92 338.94 217.34 339.61 217.86 340.4 C218.38 341.18 218.75 342.28 219.32 343.32 C219.9 344.37 220.42 345.41 221.08 346.25 C221.73 347.08 222.25 347.36 222.98 348 C223.71 348.64 224.39 349.52 225.17 349.85 C225.95 350.18 225.17 349.85 227.36 349.85 C236.43 349.85 266.79 350.1 275.93 349.85 C278.56 349.6 277.88 349.87 278.56 348.44 C279.24 347.01 279.34 344.86 279.73 341.86 C280.12 338.86 280.39 335.02 280.75 331.63 C281.12 328.23 281.39 325.07 281.78 322.85 C282.17 320.63 282.53 319.59 282.95 319.2 C283.37 318.81 283.67 319.75 284.12 320.66 C284.56 321.57 284.86 323.27 285.43 324.32 C286.01 325.36 286.55 326.04 287.33 326.51 C288.12 326.98 288.93 327.08 289.82 326.95 C290.71 326.82 291.52 326.51 292.3 325.78 C293.09 325.05 293.6 323.58 294.2 322.85 C294.81 322.12 295.14 321.42 295.67 321.68 C296.19 321.95 296.61 322.93 297.13 324.32 C297.65 325.7 297.99 327.74 298.59 329.43 C299.19 331.13 299.79 332.64 300.49 333.82 C301.2 334.99 301.75 335.41 302.54 336.01 C303.32 336.61 304.02 337.13 304.88 337.18 C305.74 337.23 306.4 336.51 307.36 336.3 C308.33 336.1 309.37 336.01 310.29 336.01 C311.2 336.01 311.83 335.78 312.48 336.3 C313.13 336.83 313.42 337.81 313.94 338.94 C314.46 340.06 314.83 341.55 315.4 342.59 C315.98 343.63 316.43 344.26 317.16 344.78 C317.89 345.31 318.77 344.99 319.5 345.51 C320.23 346.04 320.62 346.93 321.25 347.71 C321.88 348.48 321.25 349.47 323.01 349.85 C326.92 350.23 339.55 349.85 343.15 349.85" stroke="#ff0000" stroke-width="1.4" stroke-dasharray="5 2.1"/>
</g>
<path d="M174.55 349.4 v3.5 M219.58 349.4 v3.5 M264.61 349.4 v3.5 M309.64 349.4 v3.5" stroke="#222" stroke-width="0.85" fill="none"/>
<path d="M183.56 349.4 v2.3 M192.56 349.4 v2.3 M201.57 349.4 v2.3 M210.57 349.4 v2.3 M228.59 349.4 v2.3 M237.59 349.4 v2.3 M246.6 349.4 v2.3 M255.6 349.4 v2.3 M273.62 349.4 v2.3 M282.62 349.4 v2.3 M291.63 349.4 v2.3 M300.63 349.4 v2.3 M318.65 349.4 v2.3 M327.65 349.4 v2.3 M336.66 349.4 v2.3" stroke="#222" stroke-width="0.8" fill="none"/>
<path d="M174.55 349.85 V248 H342.15 V349.85" fill="none" stroke="#000" stroke-width="0.8" stroke-linejoin="miter"/>
<path d="M174.15 349.4 H342.55" fill="none" stroke="#000" stroke-opacity="0.65" stroke-width="0.9"/>
<text x="258.35" y="245.8" font-family='"Liberation Sans", sans-serif' font-size="11.9" text-anchor="middle" fill="#000">HfC</text>
<text x="176.55" y="263" font-family='"Liberation Sans", sans-serif' font-size="14.6" letter-spacing="-0.5" fill="#000">(h)</text>
<text x="174.4" y="365" font-family='"Liberation Sans", sans-serif' font-size="11.9" text-anchor="middle" fill="#000">0</text>
<text x="219.43" y="365" font-family='"Liberation Sans", sans-serif' font-size="11.9" text-anchor="middle" fill="#000">25</text>
<text x="264.46" y="365" font-family='"Liberation Sans", sans-serif' font-size="11.9" text-anchor="middle" fill="#000">50</text>
<text x="309.49" y="365" font-family='"Liberation Sans", sans-serif' font-size="11.9" text-anchor="middle" fill="#000">75</text>
<text x="258.75" y="379.1" font-family='"Liberation Sans", sans-serif' font-size="12.1" text-anchor="middle" fill="#000"><tspan font-style="italic" font-size="12.5">ω</tspan><tspan dx="0.6"> (meV)</tspan></text>
</g>
<g>
<g clip-path="url(#cp_i)" fill="none" stroke-linejoin="round">
<path d="M344.5 349.85 C346.89 349.85 354.98 350.1 357.89 349.85 C360.8 349.6 359.9 348.82 360.81 348.44 C361.73 348.06 362.35 348.36 363.01 347.71 C363.66 347.05 364 347.13 364.47 344.78 C364.94 342.43 365.25 338.73 365.64 334.55 C366.03 330.37 366.3 325.31 366.66 321.39 C367.03 317.48 367.34 314.45 367.68 312.62 C368.02 310.79 368.22 310.9 368.56 311.16 C368.9 311.42 369.19 312.25 369.58 314.08 C369.98 315.91 370.31 319.3 370.75 321.39 C371.2 323.48 371.63 325.39 372.07 325.78 C372.51 326.17 372.82 324.63 373.24 323.58 C373.66 322.54 373.94 320.71 374.41 319.93 C374.88 319.15 375.35 319.98 375.87 319.2 C376.39 318.42 376.76 316.67 377.33 315.54 C377.91 314.42 378.51 313.56 379.09 312.91 C379.66 312.26 380.08 311.55 380.55 311.89 C381.02 312.23 381.33 312.59 381.72 314.81 C382.11 317.03 382.38 320.79 382.74 324.32 C383.11 327.84 383.37 330.89 383.77 334.55 C384.16 338.2 384.52 342.23 384.94 344.78 C385.35 347.34 385.64 347.97 386.11 348.88 C386.58 349.78 386.11 349.68 387.57 349.85 C395.71 350.02 418.2 349.85 431.72 349.85 C445.23 349.85 457.29 350.35 463.25 349.85 C465.08 349.35 464.43 348.71 465.08 347.07 C465.73 345.43 466.25 342.96 466.91 340.67 C467.56 338.39 468.08 335.74 468.73 334.27 C469.39 332.81 469.98 333.59 470.56 332.45 C471.15 331.3 471.54 329.67 472.03 327.88 C472.52 326.08 472.75 323.7 473.31 322.39 C473.86 321.09 474.55 321.71 475.13 320.56 C475.72 319.42 476.11 318.28 476.6 315.99 C477.09 313.71 477.39 311.03 477.88 307.77 C478.37 304.5 478.82 300.49 479.34 297.71 C479.86 294.94 480.31 292.39 480.8 292.23 C481.29 292.06 481.62 294.35 482.08 296.8 C482.54 299.25 482.87 302.84 483.36 305.94 C483.85 309.04 484.24 312.27 484.82 314.16 C485.41 316.06 486.06 315.89 486.65 316.54 C487.24 317.19 487.56 316.61 488.11 317.82 C488.67 319.03 489.14 320.69 489.76 323.31 C490.38 325.92 490.93 329.02 491.59 332.45 C492.24 335.87 492.76 339.79 493.41 342.5 C494.07 345.21 494.59 346.31 495.24 347.62 C495.9 348.93 495.24 349.45 497.07 349.85 C500.4 350.25 510.89 349.85 513.9 349.85" stroke="#000" stroke-width="1.4"/>
<path d="M345.5 349.85 C347.84 349.85 355.75 350.1 358.62 349.85 C361.48 349.6 360.63 348.77 361.54 348.44 C362.46 348.11 362.95 348.26 363.74 348 C364.52 347.74 365.28 347.81 365.93 346.98 C366.58 346.14 366.87 345.02 367.39 343.32 C367.91 341.62 368.33 339.43 368.85 337.47 C369.38 335.52 369.79 333.71 370.32 332.36 C370.84 331 371.26 330.45 371.78 329.87 C372.3 329.3 372.67 329.14 373.24 329.14 C373.81 329.14 374.34 329.43 374.99 329.87 C375.65 330.32 376.16 330.79 376.89 331.63 C377.63 332.46 378.3 333.64 379.09 334.55 C379.87 335.46 380.5 336.27 381.28 336.74 C382.06 337.21 382.69 337.26 383.47 337.18 C384.26 337.1 384.88 336.46 385.67 336.3 C386.45 336.15 387.21 335.96 387.86 336.3 C388.51 336.64 388.85 336.95 389.32 338.2 C389.79 339.46 390.1 341.62 390.49 343.32 C390.88 345.02 391.07 346.54 391.51 347.71 C391.96 348.87 391.51 349.47 392.98 349.85 C400.16 350.23 419.5 349.85 431.72 349.85 C443.94 349.85 455.86 350.51 461.42 349.85 C462.88 349.19 462.4 347.96 462.88 346.16 C463.37 344.36 463.71 341.39 464.16 339.76 C464.62 338.13 464.95 337.02 465.44 337.02 C465.93 337.02 466.38 338.52 466.91 339.76 C467.43 341 467.78 343.31 468.37 343.96 C468.96 344.62 469.61 344.66 470.2 343.41 C470.79 342.17 471.2 339.79 471.66 337.02 C472.12 334.24 472.37 330.42 472.76 327.88 C473.15 325.33 473.43 322.92 473.85 322.76 C474.28 322.59 474.68 324.58 475.13 326.96 C475.59 329.34 475.99 333.49 476.41 336.1 C476.84 338.71 477.09 341.42 477.51 341.59 C477.93 341.75 478.33 339.14 478.79 337.02 C479.25 334.89 479.58 331.5 480.07 329.7 C480.56 327.91 480.88 327.55 481.53 326.96 C482.18 326.37 482.91 326.32 483.73 326.41 C484.54 326.51 485.35 326.92 486.1 327.51 C486.85 328.1 487.34 328.66 487.93 329.7 C488.52 330.75 488.84 332.97 489.39 333.36 C489.95 333.75 490.42 332.29 491.04 331.9 C491.66 331.51 492.18 330.97 492.87 331.17 C493.55 331.36 494.22 331.62 494.88 332.99 C495.53 334.37 495.9 336.98 496.52 338.84 C497.14 340.71 497.7 342.83 498.35 343.41 C499 344 499.53 342.89 500.18 342.14 C500.83 341.38 501.42 339.47 502.01 339.21 C502.59 338.95 502.95 339.43 503.47 340.67 C503.99 341.91 504.44 344.52 504.93 346.16 C505.42 347.8 504.93 349.19 506.21 349.85 C507.81 350.51 512.53 349.85 513.9 349.85" stroke="#ff0000" stroke-width="1.4" stroke-dasharray="5 2.1"/>
</g>
<path d="M345.5 349.4 v3.5 M390.53 349.4 v3.5 M435.56 349.4 v3.5 M480.59 349.4 v3.5" stroke="#222" stroke-width="0.85" fill="none"/>
<path d="M354.51 349.4 v2.3 M363.51 349.4 v2.3 M372.52 349.4 v2.3 M381.52 349.4 v2.3 M399.54 349.4 v2.3 M408.54 349.4 v2.3 M417.55 349.4 v2.3 M426.55 349.4 v2.3 M444.57 349.4 v2.3 M453.57 349.4 v2.3 M462.58 349.4 v2.3 M471.58 349.4 v2.3 M489.6 349.4 v2.3 M498.6 349.4 v2.3 M507.61 349.4 v2.3" stroke="#222" stroke-width="0.8" fill="none"/>
<path d="M345.5 349.85 V248 H512.9 V349.85" fill="none" stroke="#000" stroke-width="0.8" stroke-linejoin="miter"/>
<path d="M345.1 349.4 H513.3" fill="none" stroke="#000" stroke-opacity="0.65" stroke-width="0.9"/>
<text x="429.2" y="245.8" font-family='"Liberation Sans", sans-serif' font-size="11.9" text-anchor="middle" fill="#000">TaC</text>
<text x="347.5" y="263" font-family='"Liberation Sans", sans-serif' font-size="14.6" letter-spacing="-0.2" fill="#000">(i)</text>
<text x="345.35" y="365" font-family='"Liberation Sans", sans-serif' font-size="11.9" text-anchor="middle" fill="#000">0</text>
<text x="390.38" y="365" font-family='"Liberation Sans", sans-serif' font-size="11.9" text-anchor="middle" fill="#000">25</text>
<text x="435.41" y="365" font-family='"Liberation Sans", sans-serif' font-size="11.9" text-anchor="middle" fill="#000">50</text>
<text x="480.44" y="365" font-family='"Liberation Sans", sans-serif' font-size="11.9" text-anchor="middle" fill="#000">75</text>
<text x="429.6" y="379.1" font-family='"Liberation Sans", sans-serif' font-size="12.1" text-anchor="middle" fill="#000"><tspan font-style="italic" font-size="12.5">ω</tspan><tspan dx="0.6"> (meV)</tspan></text>
</g>
<g>
<g clip-path="url(#cp_j)" fill="none" stroke-linejoin="round">
<path d="M516.5 349.85 C518.79 349.85 526.72 350.23 529.35 349.85 C531.25 349.47 530.47 349.13 531.25 347.71 C532.03 346.28 532.9 344.08 533.74 341.86 C534.57 339.64 535.28 337.89 535.93 335.28 C536.58 332.67 536.92 329.59 537.39 327.24 C537.86 324.89 538.09 323.3 538.56 322.12 C539.03 320.95 539.5 320.58 540.02 320.66 C540.55 320.74 540.91 322.3 541.49 322.56 C542.06 322.82 542.53 321.94 543.24 322.12 C543.94 322.31 544.6 323.66 545.43 323.58 C546.27 323.51 547.21 321.55 547.92 321.68 C548.62 321.81 548.78 322.93 549.38 324.32 C549.98 325.7 550.6 327.87 551.28 329.43 C551.96 331 552.53 331.97 553.18 333.09 C553.83 334.21 554.23 335.14 554.94 335.72 C555.64 336.29 556.48 335.86 557.13 336.3 C557.78 336.75 558.07 336.95 558.59 338.2 C559.11 339.46 559.53 341.62 560.05 343.32 C560.57 345.02 560.99 346.54 561.51 347.71 C562.04 348.87 561.51 349.47 562.98 349.85 C570.16 350.23 593.87 349.85 601.72 349.85 C606.93 349.85 603.91 349.85 606.93 349.85 C609.95 349.85 616.22 350.23 618.63 349.85 C620.38 349.47 619.73 349 620.38 347.71 C621.03 346.41 621.6 344.03 622.28 342.59 C622.96 341.15 623.53 339.85 624.18 339.67 C624.83 339.48 625.36 340.97 625.94 341.57 C626.51 342.17 626.82 343.11 627.4 343.03 C627.97 342.95 628.5 341.91 629.15 341.13 C629.8 340.35 630.37 339.43 631.05 338.64 C631.73 337.86 632.43 338.39 632.95 336.74 C633.48 335.1 633.61 331.91 633.98 329.43 C634.34 326.95 634.66 324.29 635 322.85 C635.34 321.42 635.51 321.13 635.88 321.39 C636.24 321.65 636.6 322.88 637.05 324.32 C637.49 325.75 637.79 328 638.36 329.43 C638.94 330.87 639.56 331.7 640.26 332.36 C640.97 333.01 641.74 332.17 642.31 333.09 C642.88 334 643.01 336.3 643.48 337.47 C643.95 338.65 644.42 339.8 644.94 339.67 C645.46 339.54 645.88 337.4 646.4 336.74 C646.93 336.09 647.34 335.62 647.87 336.01 C648.39 336.4 648.75 338.02 649.33 338.94 C649.9 339.85 650.3 340.66 651.08 341.13 C651.87 341.6 652.77 341.65 653.71 341.57 C654.65 341.49 655.56 340.51 656.35 340.69 C657.13 340.87 657.47 341.81 658.1 342.59 C658.73 343.37 659.07 344.63 659.85 345.08 C660.64 345.52 661.55 345.26 662.49 345.08 C663.43 344.89 664.39 345.15 665.12 344.05 C665.85 342.96 666.06 340.42 666.58 338.94 C667.1 337.45 667.47 336.03 668.04 335.72 C668.62 335.41 669.09 336.61 669.8 337.18 C670.5 337.76 671.15 338.67 671.99 338.94 C672.82 339.2 673.82 338.25 674.47 338.64 C675.13 339.03 675.23 340.03 675.64 341.13 C676.06 342.23 676.29 343.92 676.81 344.78 C677.34 345.65 677.86 345.43 678.57 345.95 C679.27 346.48 679.98 347.01 680.76 347.71 C681.54 348.4 682.29 349.47 682.95 349.85 C683.62 350.23 684.22 349.85 684.5 349.85" stroke="#ff0000" stroke-width="1.4" stroke-dasharray="5 2.1"/>
</g>
<path d="M516.5 349.4 v3.5 M561.53 349.4 v3.5 M606.56 349.4 v3.5 M651.59 349.4 v3.5" stroke="#222" stroke-width="0.85" fill="none"/>
<path d="M525.51 349.4 v2.3 M534.51 349.4 v2.3 M543.52 349.4 v2.3 M552.52 349.4 v2.3 M570.54 349.4 v2.3 M579.54 349.4 v2.3 M588.55 349.4 v2.3 M597.55 349.4 v2.3 M615.57 349.4 v2.3 M624.57 349.4 v2.3 M633.58 349.4 v2.3 M642.58 349.4 v2.3 M660.6 349.4 v2.3 M669.6 349.4 v2.3 M678.61 349.4 v2.3" stroke="#222" stroke-width="0.8" fill="none"/>
<path d="M516.5 349.85 V248 H683.5 V349.85" fill="none" stroke="#000" stroke-width="0.8" stroke-linejoin="miter"/>
<path d="M516.1 349.4 H683.9" fill="none" stroke="#000" stroke-opacity="0.65" stroke-width="0.9"/>
<text x="600" y="245.8" font-family='"Liberation Sans", sans-serif' font-size="11.9" text-anchor="middle" fill="#000">WC</text>
<text x="518" y="263" font-family='"Liberation Sans", sans-serif' font-size="14.6" letter-spacing="-0.4" fill="#000">(j)</text>
<text x="516.35" y="365" font-family='"Liberation Sans", sans-serif' font-size="11.9" text-anchor="middle" fill="#000">0</text>
<text x="561.38" y="365" font-family='"Liberation Sans", sans-serif' font-size="11.9" text-anchor="middle" fill="#000">25</text>
<text x="606.41" y="365" font-family='"Liberation Sans", sans-serif' font-size="11.9" text-anchor="middle" fill="#000">50</text>
<text x="651.44" y="365" font-family='"Liberation Sans", sans-serif' font-size="11.9" text-anchor="middle" fill="#000">75</text>
<text x="600.4" y="379.1" font-family='"Liberation Sans", sans-serif' font-size="12.1" text-anchor="middle" fill="#000"><tspan font-style="italic" font-size="12.5">ω</tspan><tspan dx="0.6"> (meV)</tspan></text>
</g>
<g>
<rect x="567.6" y="21.4" width="111.9" height="82.8" rx="2.6" ry="2.6" fill="#fff" stroke="#d4d4d4" stroke-width="1"/>
<path d="M574.2 43.3 H609.5" stroke="#000" stroke-width="1.4" fill="none"/>
<path d="M574.2 82.1 H609.5" stroke="#ff0000" stroke-width="1.4" stroke-dasharray="5.3 2.14" fill="none"/>
<text transform="translate(628.55 40) scale(1 1)" font-family='"DejaVu Sans", sans-serif' font-size="12.6" font-style="italic" fill="#000">α</text>
<text x="636.9" y="35.3" font-family='"DejaVu Sans", sans-serif' font-size="8.5" fill="#000">2</text>
<text transform="translate(642.7 39.7) scale(1.02 1)" font-family='"DejaVu Sans", sans-serif' font-size="12" font-style="italic" fill="#000">F</text>
<text x="649.8" y="42" font-family='"DejaVu Sans", sans-serif' font-size="8.3" fill="#000">1</text>
<text x="657.2" y="42" font-family='"DejaVu Sans", sans-serif' font-size="8.3" fill="#000">:</text>
<text x="661.3" y="42" font-family='"DejaVu Sans", sans-serif' font-size="8.3" fill="#000">1</text>
<path d="M623.3 45.4 H672.6" stroke="#000" stroke-width="0.95" fill="none"/>
<text transform="translate(623.5 56.1) scale(0.98 1)" font-family='"DejaVu Sans", sans-serif' font-size="12" font-style="italic" fill="#000">N</text>
<text x="632.4" y="58.3" font-family='"DejaVu Sans", sans-serif' font-size="8.3" fill="#000">1</text>
<text x="639.5" y="58.3" font-family='"DejaVu Sans", sans-serif' font-size="8.3" fill="#000">:</text>
<text x="643.9" y="58.3" font-family='"DejaVu Sans", sans-serif' font-size="8.3" fill="#000">1</text>
<text x="649.8" y="56.8" font-family='"DejaVu Sans", sans-serif' font-size="11.7" fill="#000">(</text>
<text transform="translate(654.5 56) scale(1 1)" font-family='"DejaVu Sans", sans-serif' font-size="12" font-style="italic" fill="#000">E</text>
<text x="662.3" y="58" font-family='"DejaVu Sans", sans-serif' font-size="7.8" font-style="italic" fill="#000">F</text>
<text x="667.7" y="56.8" font-family='"DejaVu Sans", sans-serif' font-size="11.7" fill="#000">)</text>
<text transform="translate(628.55 79.2) scale(1 1)" font-family='"DejaVu Sans", sans-serif' font-size="12.6" font-style="italic" fill="#000">α</text>
<text x="636.9" y="74.5" font-family='"DejaVu Sans", sans-serif' font-size="8.5" fill="#000">2</text>
<text transform="translate(642.7 78.9) scale(1.02 1)" font-family='"DejaVu Sans", sans-serif' font-size="12" font-style="italic" fill="#000">F</text>
<text x="649.8" y="81.2" font-family='"DejaVu Sans", sans-serif' font-size="8.3" fill="#000">6</text>
<text x="657.2" y="81.2" font-family='"DejaVu Sans", sans-serif' font-size="8.3" fill="#000">:</text>
<text x="661.3" y="81.2" font-family='"DejaVu Sans", sans-serif' font-size="8.3" fill="#000">5</text>
<path d="M623.3 84.6 H672.6" stroke="#000" stroke-width="0.95" fill="none"/>
<text transform="translate(623.5 95.3) scale(0.98 1)" font-family='"DejaVu Sans", sans-serif' font-size="12" font-style="italic" fill="#000">N</text>
<text x="632.4" y="97.5" font-family='"DejaVu Sans", sans-serif' font-size="8.3" fill="#000">6</text>
<text x="639.5" y="97.5" font-family='"DejaVu Sans", sans-serif' font-size="8.3" fill="#000">:</text>
<text x="643.9" y="97.5" font-family='"DejaVu Sans", sans-serif' font-size="8.3" fill="#000">5</text>
<text x="649.8" y="96" font-family='"DejaVu Sans", sans-serif' font-size="11.7" fill="#000">(</text>
<text transform="translate(654.5 95.2) scale(1 1)" font-family='"DejaVu Sans", sans-serif' font-size="12" font-style="italic" fill="#000">E</text>
<text x="662.3" y="97.2" font-family='"DejaVu Sans", sans-serif' font-size="7.8" font-style="italic" fill="#000">F</text>
<text x="667.7" y="96" font-family='"DejaVu Sans", sans-serif' font-size="11.7" fill="#000">)</text>
</g>
</svg>
</body>
</html>
